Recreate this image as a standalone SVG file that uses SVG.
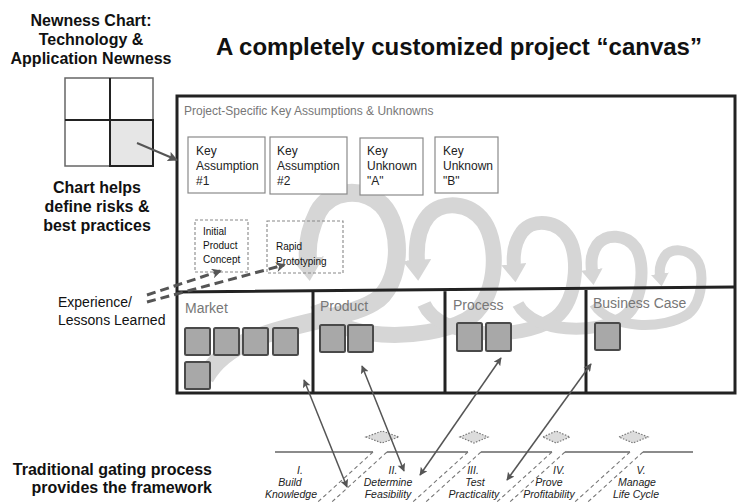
<svg xmlns="http://www.w3.org/2000/svg" width="740" height="503" viewBox="0 0 740 503">
<style>
text{font-family:"Liberation Sans",Arial,sans-serif}
.h{font-weight:bold;font-size:16px;fill:#111;text-anchor:middle}
.kb{fill:#fff;stroke:#8a8a8a;stroke-width:1.2}
.kt{font-size:12px;fill:#222}
.db{fill:none;stroke:#888;stroke-width:1.1;stroke-dasharray:3,2}
.dt{font-size:10px;fill:#111}
.sec{font-size:14px;fill:#777}
.sq{fill:#a8a8a8;stroke:#4a4a4a;stroke-width:2}
.frame{fill:none;stroke:#222;stroke-width:3}
.loop{fill:none;stroke:#d6d6d6;marker-end:url(#ga)}
.link{stroke:#555;stroke-width:1.5;fill:none;marker-start:url(#ah);marker-end:url(#ah)}
.exp{stroke:#555;stroke-width:3;fill:none;stroke-dasharray:9,5;marker-end:url(#eh)}
.gate{stroke:#666;stroke-width:1.3;fill:none}
.gd{stroke:#777;stroke-width:1.1;stroke-dasharray:4,3;fill:none}
.dia{fill:#dcdcdc;stroke:#777;stroke-width:1.2;stroke-dasharray:1.5,1.5}
.st{font-size:10.5px;font-style:italic;fill:#222;text-anchor:middle}
</style>
<defs>
<marker id="ga" viewBox="0 0 10 10" refX="1" refY="5" markerWidth="1.3" markerHeight="1.8" preserveAspectRatio="none" orient="auto"><path d="M0,0 L10,5 L0,10 z" fill="#d6d6d6"/></marker>
<marker id="ah" viewBox="0 0 10 10" refX="9" refY="5" markerUnits="userSpaceOnUse" markerWidth="10" markerHeight="8" orient="auto-start-reverse"><path d="M0,0 L10,5 L0,10 L2,5 z" fill="#555"/></marker>
<marker id="eh" viewBox="0 0 10 10" refX="8" refY="5" markerUnits="userSpaceOnUse" markerWidth="11" markerHeight="10" orient="auto"><path d="M0,0 L10,5 L0,10 L3,5 z" fill="#555"/></marker>
<marker id="ch" viewBox="0 0 10 10" refX="9" refY="5" markerUnits="userSpaceOnUse" markerWidth="11" markerHeight="10" orient="auto"><path d="M0,0 L10,5 L0,10 L2,5 z" fill="#555"/></marker>
</defs>
<rect width="740" height="503" fill="#fff"/>

<g id="title"><text x="216" y="55" font-size="24" font-weight="bold" fill="#111">A completely customized project “canvas”</text></g>

<g id="newness-chart">
<text class="h" x="91" y="26">Newness Chart:</text>
<text class="h" x="91" y="45">Technology &amp;</text>
<text class="h" x="91" y="64">Application Newness</text>
<rect x="110" y="120" width="43" height="46" fill="#e6e6e6"/>
<rect x="65" y="78" width="88" height="88" fill="none" stroke="#666" stroke-width="1.5"/>
<path d="M110,78 V166 M65,120 H153" stroke="#222" stroke-width="2"/>
<rect x="110" y="120" width="43" height="46" fill="none" stroke="#222" stroke-width="2"/>
<text class="h" x="97" y="193">Chart helps</text>
<text class="h" x="97" y="212">define risks &amp;</text>
<text class="h" x="97" y="231">best practices</text>
</g>

<g id="loops">
<path class="loop" stroke-width="18" d="M205,378 C235,322 335,326 374,302 C402,286 404,228 382,205 C362,186 330,190 318,212 C309,230 307,248 308,260"/>
<path class="loop" stroke-width="16" d="M318,304 C332,342 425,342 466,320 C498,302 500,246 484,222 C470,202 442,200 428,216 C418,228 416,246 417,262"/>
<path class="loop" stroke-width="14" d="M424,304 C440,340 520,340 552,320 C577,305 580,258 569,239 C558,220 533,218 522,232 C514,243 513,255 514,266"/>
<path class="loop" stroke-width="12" d="M518,304 C534,334 596,334 622,318 C643,305 646,264 636,248 C626,234 606,233 597,245 C591,254 591,262 592,271"/>
<path class="loop" stroke-width="10" d="M594,304 C610,330 664,330 688,314 C703,302 705,270 696,259 C687,248 671,248 665,256 C660,263 659,268 660,275"/>
</g>

<g id="canvas">
<rect class="frame" x="177" y="96" width="558" height="297"/>
<path class="frame" d="M177,292 L735,287 M313,291 V393 M445,290 V393 M586,288 V393"/>
<text x="184" y="115" font-size="12" fill="#777">Project-Specific Key Assumptions &amp; Unknowns</text>
</g>

<g id="ka1"><rect class="kb" x="188" y="137" width="77" height="56"/><text class="kt" x="196" y="155">Key</text><text class="kt" x="196" y="170">Assumption</text><text class="kt" x="196" y="185">#1</text></g>
<g id="ka2"><rect class="kb" x="270" y="137" width="77" height="57"/><text class="kt" x="277" y="155">Key</text><text class="kt" x="277" y="170">Assumption</text><text class="kt" x="277" y="185">#2</text></g>
<g id="ku-a"><rect class="kb" x="360" y="138" width="63" height="57"/><text class="kt" x="367" y="155">Key</text><text class="kt" x="367" y="170">Unknown</text><text class="kt" x="367" y="185">"A"</text></g>
<g id="ku-b"><rect class="kb" x="435" y="137" width="63" height="56"/><text class="kt" x="443" y="155">Key</text><text class="kt" x="443" y="170">Unknown</text><text class="kt" x="443" y="185">"B"</text></g>

<g id="initial-concept"><rect class="db" x="195" y="220" width="53" height="52"/><text class="dt" x="203" y="235">Initial</text><text class="dt" x="203" y="249">Product</text><text class="dt" x="203" y="263">Concept</text></g>
<g id="rapid-proto"><rect class="db" x="267" y="221" width="76" height="52"/><text class="dt" x="276" y="250">Rapid</text><text class="dt" x="276" y="265">Prototyping</text></g>

<g id="experience"><text x="58" y="307" font-size="14" fill="#111">Experience/</text><text x="58" y="325" font-size="14" fill="#111">Lessons Learned</text></g>

<g id="market"><text class="sec" x="185" y="313">Market</text>
<rect class="sq" x="185" y="328" width="25" height="27" rx="1.5"/><rect class="sq" x="214" y="328" width="25" height="27" rx="1.5"/><rect class="sq" x="243" y="328" width="25" height="27" rx="1.5"/><rect class="sq" x="273" y="328" width="25" height="27" rx="1.5"/><rect class="sq" x="185" y="362" width="25" height="27" rx="1.5"/></g>
<g id="product"><text class="sec" x="320" y="311">Product</text>
<rect class="sq" x="320" y="325" width="25" height="27" rx="1.5"/><rect class="sq" x="348" y="325" width="25" height="27" rx="1.5"/></g>
<g id="process"><text class="sec" x="453" y="310">Process</text>
<rect class="sq" x="457" y="323" width="25" height="28" rx="1.5"/><rect class="sq" x="486" y="323" width="25" height="28" rx="1.5"/></g>
<g id="business-case"><text class="sec" x="593" y="308">Business Case</text>
<rect class="sq" x="595" y="323" width="25" height="27" rx="1.5"/></g>

<g id="gating">
<path class="gate" d="M275,452 H373 M387,452 H468 M481,452 H552 M565,452 H630 M643,452 H693"/>
<path class="gd" d="M373,452 L309,510 M387,452 L323,510 M468,452 L404,510 M481,452 L417,510 M552,452 L488,510 M565,452 L501,510 M630,452 L566,510 M643,452 L579,510"/>
<path class="dia" d="M366,437 L382,431 L399,437 L382,443 z"/>
<path class="dia" d="M460,437 L474,431 L488,437 L474,443 z"/>
<path class="dia" d="M543,437 L556,431 L570,437 L556,443 z"/>
<path class="dia" d="M619,437 L633,431 L648,437 L633,443 z"/>
<text x="212" y="475" font-size="16" font-weight="bold" fill="#111" text-anchor="end">Traditional gating process</text>
<text x="212" y="493" font-size="16" font-weight="bold" fill="#111" text-anchor="end">provides the framework</text>
</g>
<g id="stage1"><text class="st" x="300" y="474">I.</text><text class="st" x="290" y="486">Build</text><text class="st" x="291" y="498">Knowledge</text></g>
<g id="stage2"><text class="st" x="393" y="474">II.</text><text class="st" x="388" y="486">Determine</text><text class="st" x="388" y="498">Feasibility</text></g>
<g id="stage3"><text class="st" x="473" y="474">III.</text><text class="st" x="475" y="486">Test</text><text class="st" x="474" y="498">Practicality</text></g>
<g id="stage4"><text class="st" x="559" y="474">IV.</text><text class="st" x="549" y="486">Prove</text><text class="st" x="549" y="498">Profitability</text></g>
<g id="stage5"><text class="st" x="641" y="474">V.</text><text class="st" x="637" y="486">Manage</text><text class="st" x="636" y="498">Life Cycle</text></g>

<g id="connectors">
<line x1="137" y1="143" x2="177" y2="160" stroke="#555" stroke-width="2" marker-end="url(#ch)"/>
<path class="exp" d="M147,295 L220,271"/>
<path class="exp" d="M147,302 L284,265"/>
<path class="link" d="M304,380 L347,487"/>
<path class="link" d="M362,366 L404,471"/>
<path class="link" d="M501,358 L420,475"/>
<path class="link" d="M591,364 L507,480"/>
</g>
</svg>
